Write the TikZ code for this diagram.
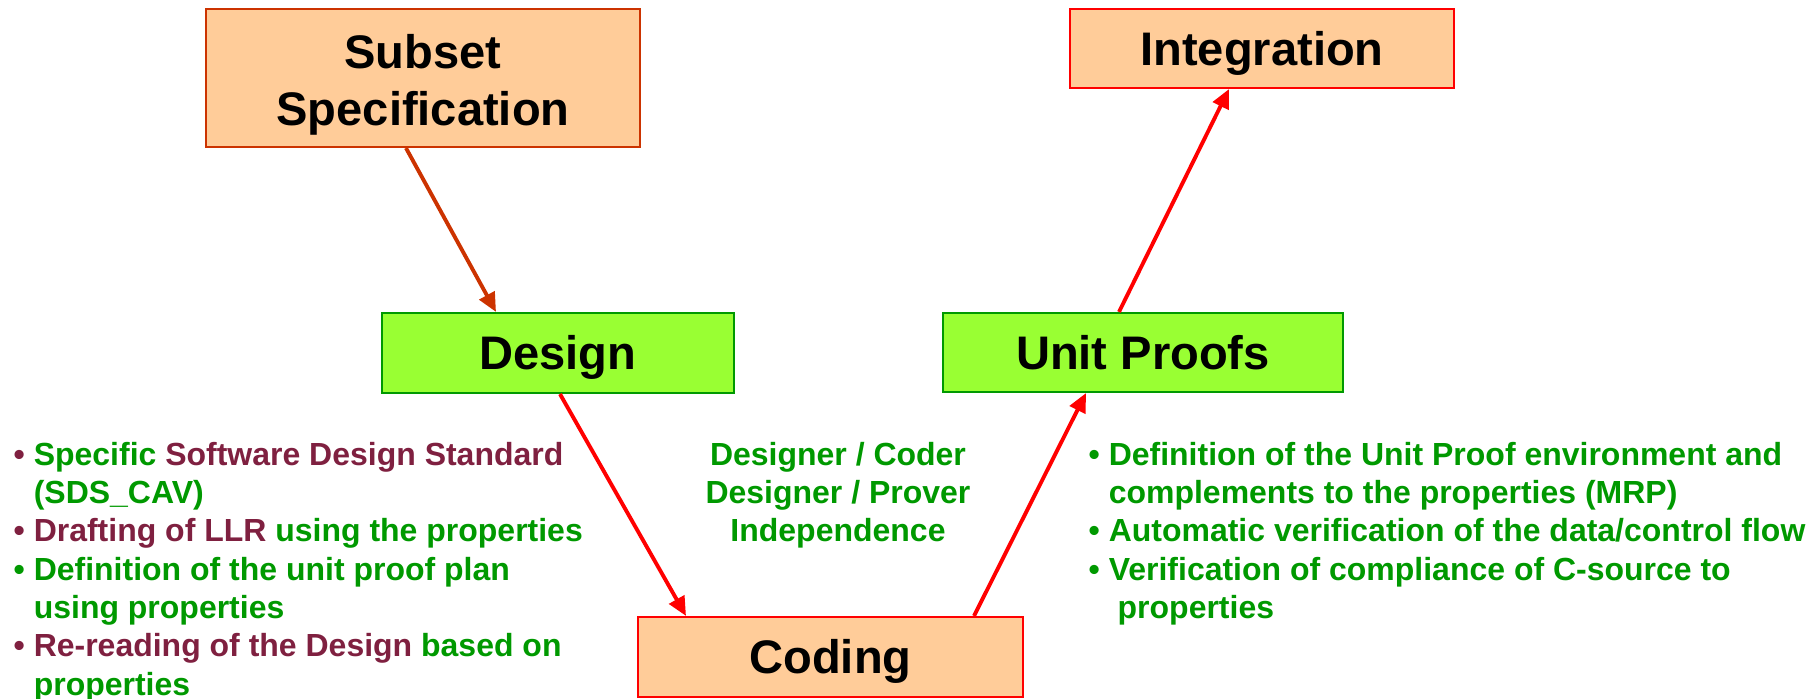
\documentclass[tikz,border=0pt]{standalone}
\usepackage{fontspec}
\setmainfont{Liberation Sans}
\usetikzlibrary{arrows.meta,positioning,calc}
\definecolor{boxorange}{HTML}{FFCC99}
\definecolor{boxgreen}{HTML}{99FF33}
\definecolor{edgegreen}{HTML}{009900}
\definecolor{edgerust}{HTML}{CC3300}
\definecolor{txtgreen}{HTML}{009900}
\definecolor{txtwine}{HTML}{7F2040}
\tikzset{main base/.style={draw,line width=0.6pt,text centered,inner sep=0pt,font=\bfseries\fontsize{13.4pt}{16.2pt}\selectfont}, }
\tikzset{phase node/.style={rectangle,main base,fill=boxorange,draw=red}, }
\tikzset{phase node2/.style={rectangle,main base,fill=boxgreen,draw=edgegreen}, }
\tikzset{one line/.style={text height=0.40cm,text depth=0.06cm}, }
\tikzset{note/.style={inner sep=0pt,align=left,text=txtgreen,font=\bfseries\fontsize{9.1pt}{10.9pt}\selectfont}, }
\tikzset{linea/.style={-{Triangle[length=0.19cm,width=0.17cm]},line width=1.1pt,draw=red}}
\tikzset{linea2/.style={linea,draw=edgerust}}

\begin{document}
\begin{tikzpicture}
\useasboundingbox (0,0) rectangle (18.18,6.99);
%
    \node[phase node,draw=edgerust,align=center,minimum width=4.34cm,minimum height=1.38cm] (spec) at (4.23,6.21) {\rule{0pt}{0.48cm}Subset\\Specification};
    \node[phase node,one line,minimum width=3.84cm,minimum height=0.79cm] (integ) at (12.62,6.505) {Integration};
%%
    \node[phase node2,one line,minimum width=3.52cm,minimum height=0.80cm] (design) at (5.58,3.46) {Design};
    \node[phase node2,one line,minimum width=4.00cm,minimum height=0.79cm] (proofs) at (11.43,3.465) {Unit Proofs};
%%
    \node[phase node,one line,minimum width=3.85cm,minimum height=0.80cm] (coding) at (8.305,0.42) {Coding};
%
    \node[note,anchor=north west] (left notes) at (0.13,2.575) {%
      {\color{txtwine}\textbullet} Specific {\color{txtwine}Software Design Standard}\\
      \phantom{\textbullet\ }(SDS\_CAV)\\
      {\color{txtwine}\textbullet\ Drafting of LLR} using the properties\\
      \textbullet\ Definition of the unit proof plan\\
      \phantom{\textbullet\ }using properties\\
      {\color{txtwine}\textbullet\ Re-reading of the Design} based on\\
      \phantom{\textbullet\ }properties};
    \node[note,align=center,anchor=north] (indep) at (8.38,2.575) {Designer / Coder\\Designer / Prover\\Independence};
    \node[note,anchor=north west] (right notes) at (10.88,2.575) {%
      \textbullet\ Definition of the Unit Proof environment and\\
      \phantom{\textbullet\ }complements to the properties (MRP)\\
      \textbullet\ Automatic verification of the data/control flow\\
      \textbullet\ Verification of compliance of C-source to\\
      \phantom{\textbullet\ }\ properties};
%
  \path[linea2] ([xshift=-0.17cm]spec.south) -- ([xshift=-0.62cm]design.north);
  \path[linea] ([xshift=0.02cm]design.south) -- ([xshift=-1.445cm]coding.north);
  \path[linea] ([xshift=1.435cm]coding.north) -- ([xshift=-0.57cm]proofs.south);
  \path[linea] ([xshift=-0.24cm]proofs.north) -- ([xshift=-0.33cm]integ.south);
%  
\end{tikzpicture}
\end{document}
